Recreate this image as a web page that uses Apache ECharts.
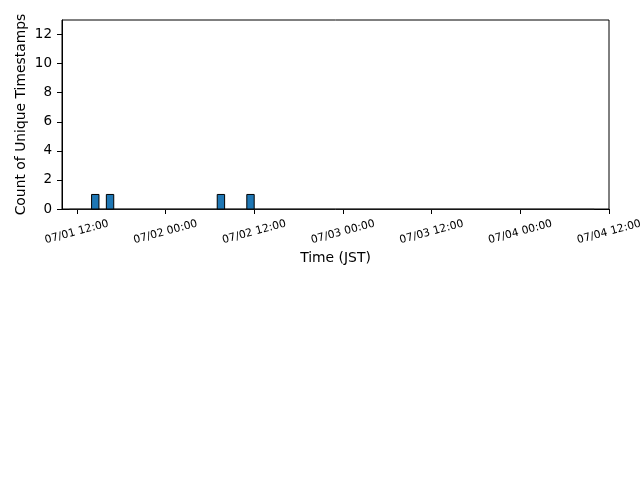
<!DOCTYPE html>
<html>
<head>
<meta charset="utf-8">
<script src="https://cdn.jsdelivr.net/npm/echarts@6/dist/echarts.min.js"></script>
<style>html,body{margin:0;padding:0;background:#fff}#c{width:640px;height:480px}</style>
</head>
<body>
<div id="c"></div>
<script>
// x values are hours since 07/01 00:00 JST
var binStarts = [14, 16, 31, 35];
var binEnds   = [15, 17, 32, 36];
var binCounts = [1, 1, 1, 1];
var baselineHours = [11, 82];       // extent of the zero-count bins
var xTickHours = [12, 24, 36, 48, 60, 72, 84];
var xTickLabels = ['07/01 12:00', '07/02 00:00', '07/02 12:00', '07/03 00:00', '07/03 12:00', '07/04 00:00', '07/04 12:00'];
var yTicks = [0, 2, 4, 6, 8, 10, 12];

var barData = binStarts.map(function (s, i) { return [s, binEnds[i], binCounts[i]]; });
var font = 'DejaVu Sans';

var chart = echarts.init(document.getElementById('c'), null, {renderer: 'canvas'});
chart.setOption({
  animation: false,
  backgroundColor: '#fff',
  textStyle: {fontFamily: font},
  grid: {left: 62, right: 31, top: 20, bottom: 271, outerBoundsMode: 'none', containLabel: false,
         show: true, borderColor: '#000', borderWidth: 1, backgroundColor: 'transparent'},
  xAxis: {
    type: 'value', min: 10, max: 84,
    name: 'Time (JST)', nameLocation: 'middle', nameGap: 42, nameMoveOverlap: false,
    nameTextStyle: {color: '#000', fontSize: 13.9, fontFamily: font},
    axisLine: {show: true, onZero: false, lineStyle: {color: '#000', width: 1}},
    axisTick: {show: true, length: 5, lineStyle: {color: '#000'}, customValues: xTickHours},
    splitLine: {show: false},
    axisLabel: {
      customValues: xTickHours, rotate: 15, align: 'center', verticalAlign: 'middle', margin: 23,
      color: '#000', fontSize: 10.8, fontFamily: font, hideOverlap: false,
      formatter: function (v) { var i = xTickHours.indexOf(v); return i >= 0 ? xTickLabels[i] : ''; }
    }
  },
  yAxis: {
    type: 'value', min: 0, max: 13,
    name: 'Count of Unique Timestamps', nameLocation: 'middle', nameGap: 34, nameMoveOverlap: false,
    nameTextStyle: {color: '#000', fontSize: 13.9, fontFamily: font},
    axisLine: {show: true, lineStyle: {color: '#000', width: 1}},
    axisTick: {show: true, length: 5, lineStyle: {color: '#000'}, customValues: yTicks},
    splitLine: {show: false},
    axisLabel: {customValues: yTicks, color: '#000', fontSize: 13.5, fontFamily: font, margin: 10}
  },
  series: [
    {
      type: 'line', data: baselineHours.map(function (h) { return [h, 0]; }),
      symbol: 'none', lineStyle: {color: '#555', width: 1.2}, z: 1
    },
    {
      type: 'custom', z: 2,
      renderItem: function (params, api) {
        var p0 = api.coord([api.value(0), 0]);
        var p1 = api.coord([api.value(1), api.value(2)]);
        return {
          type: 'rect',
          shape: {x: p0[0], y: p1[1], width: p1[0] - p0[0], height: p0[1] - p1[1]},
          style: {fill: '#1f77b4', stroke: '#000', lineWidth: 1}
        };
      },
      encode: {x: [0, 1], y: 2},
      data: barData
    }
  ]
});
</script>
</body>
</html>
